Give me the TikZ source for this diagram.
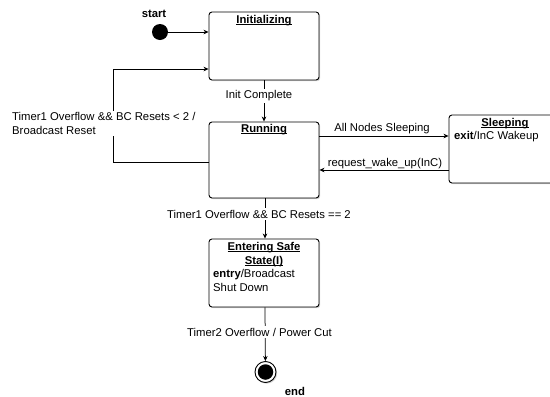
\documentclass[tikz,border=0pt]{standalone}
\usepackage{fontspec}
\setmainfont{Liberation Sans}
\usetikzlibrary{arrows.meta,shadows,calc}

% underline drawn just below the baseline, through descenders
\newcommand\stitle[1]{\setbox0\hbox{#1}\rlap{\rule[-1.5pt]{\wd0}{0.65pt}}\box0}

\begin{document}
\begin{tikzpicture}[x=1pt,y=-1pt,
  state/.style={draw, rounded corners=3pt, line width=0.9pt, fill=white,
    minimum width=110pt, minimum height=68pt, inner sep=0pt,
    drop shadow={shadow xshift=1.2pt, shadow yshift=-1.2pt, opacity=0.35}},
  txt/.style={font=\fontsize{11.3}{13.7}\selectfont, inner sep=0pt},
  title/.style={txt, font=\fontsize{11.3}{13.7}\selectfont\bfseries, anchor=base},
  lbl/.style={txt, fill=white, inner sep=1.5pt},
  trans/.style={draw, line width=0.75pt, -{Stealth[length=5pt,width=4.5pt,inset=1.5pt]}},
]
\useasboundingbox (0,0) rectangle (550,397);

% states
\node[state] (init) at (264,46) {};
\node[state, minimum height=76pt] (run) at (264,160) {};
\node[state, minimum width=112pt] (sleep) at (505,149) {};
\node[state] (safe) at (264,273) {};

% state titles and activities
\node[title] (initT) at (264,23.5) {\stitle{Initializing}};
\node[title] (runT) at (264,132) {\stitle{Running}};
\node[title] (sleepT) at (505,126.5) {\stitle{Sleeping}};
\node[txt, anchor=base west] (sleepA) at (454,139) {\textbf{exit}/InC Wakeup};
\node[title] (safeT1) at (264,250) {\stitle{Entering Safe}};
\node[title] (safeT2) at (264,264) {\stitle{State(I)}};
\node[txt, anchor=base west] (safeA1) at (213,277.5) {\textbf{entry}/Broadcast};
\node[txt, anchor=base west] (safeA2) at (213,291) {Shut Down};

% pseudo states
\node[circle, fill=black, minimum size=16pt, inner sep=0pt] (start) at (160,32) {};
\node[title] (startT) at (154,17) {start};
\node[circle, draw, line width=0.9pt, fill=white, minimum size=21pt, inner sep=0pt,
  drop shadow={shadow xshift=1.2pt, shadow yshift=-1.2pt, opacity=0.35}] (end) at (265.5,372) {};
\node[circle, fill=black, minimum size=15.5pt, inner sep=0pt] (endIn) at (end) {};
\node[title] (endT) at (295,395) {end};

% transitions
\coordinate (loopIn) at ($(init.west)+(0,23)$);
\coordinate (loopOut) at ($(run.west)+(0,2)$);
\coordinate (slpOut) at ($(run.east)+(0,-24)$);
\coordinate (slpBack) at ($(run.east)+(0,10)$);

\draw[trans] (start) -- (start -| init.west);
\draw[trans] (init) -- (run);
\draw[trans] (loopOut) -- (113,162) |- (loopIn);
\draw[trans] (slpOut) -- (slpOut -| sleep.west);
\draw[trans] (sleep.west |- slpBack) -- (slpBack);
\draw[trans] (run.south -| 265,0) -- (safe.north -| 265,0);
\draw[trans] (safe.south -| 265,0) -- (end);

% transition labels
\node[lbl] (lInit) at (259,96) {Init Complete};
\node[lbl, anchor=west, align=left] (lLoop) at (10.5,123.5)
  {Timer1 Overflow \&\& BC Resets < 2 /\\Broadcast Reset};
\node[txt] (lSleep) at (382,129) {All Nodes Sleeping};
\node[txt] (lWake) at (385,163.5) {request\_wake\_up(InC)};
\node[lbl] (lSafe) at (259,214) {Timer1 Overflow \&\& BC Resets == 2};
\node[lbl] (lEnd) at (259.5,332) {Timer2 Overflow / Power Cut};
\end{tikzpicture}
\end{document}
